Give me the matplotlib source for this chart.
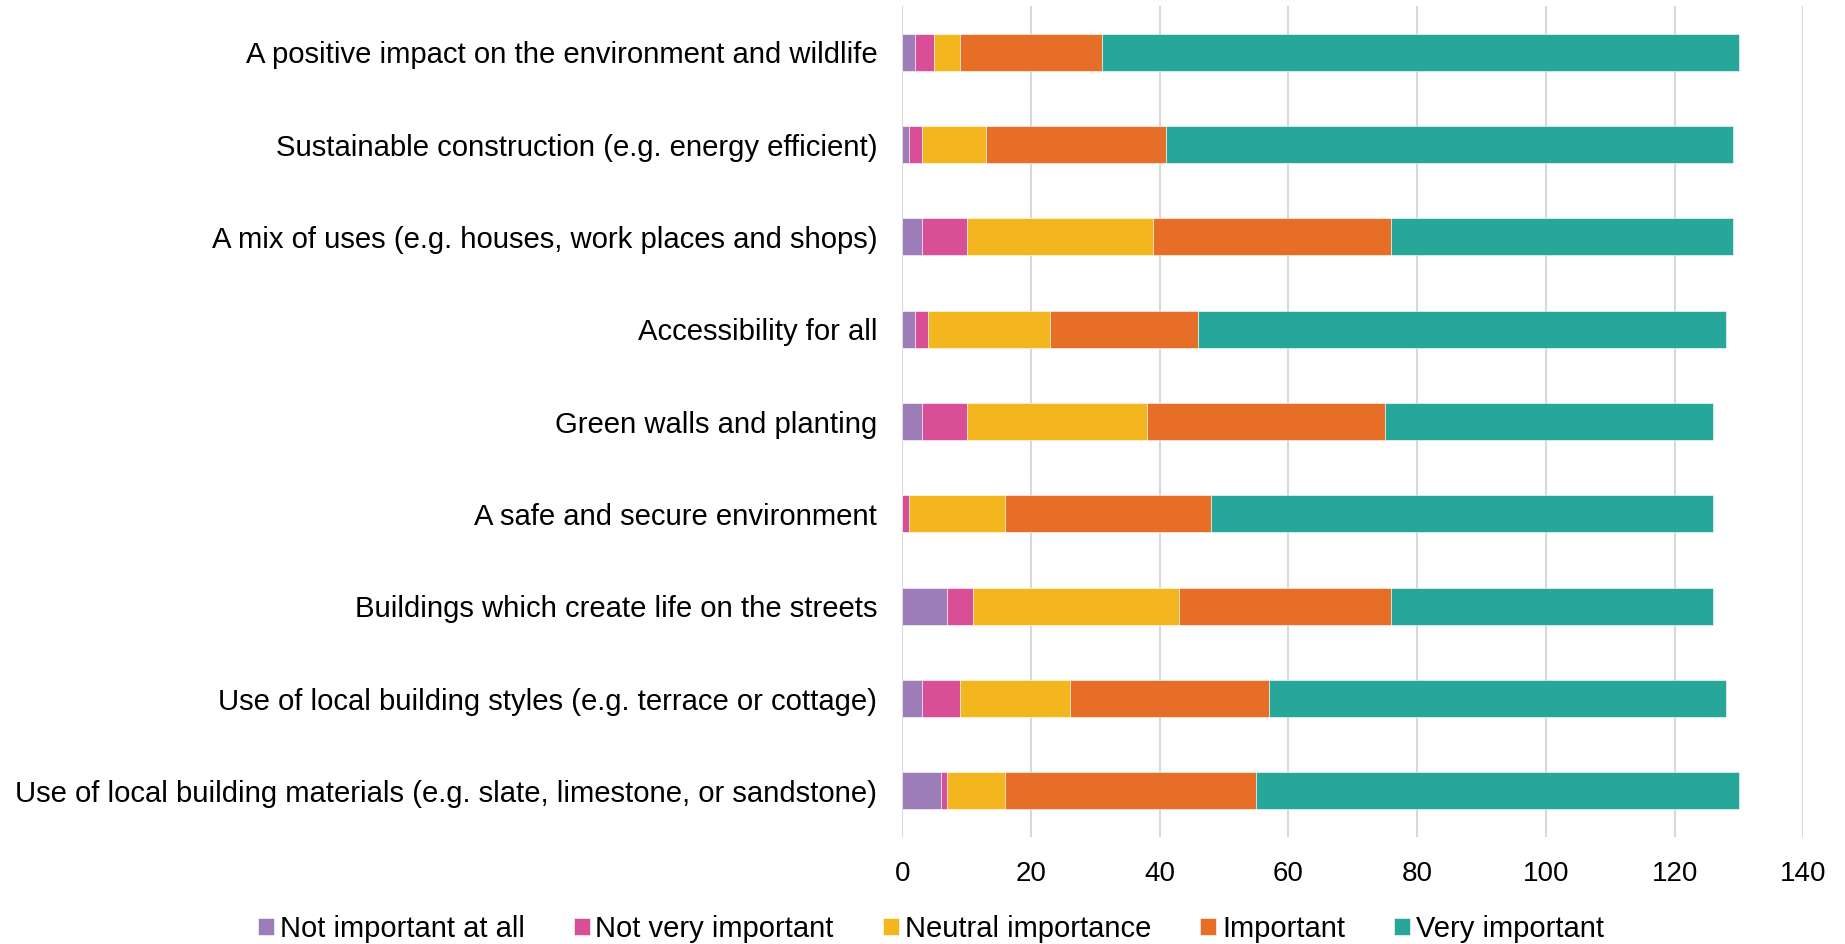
import matplotlib
matplotlib.use("Agg")
import matplotlib.pyplot as plt
import numpy as np

plt.rcParams['font.family'] = ['Liberation Sans', 'DejaVu Sans']

categories = [
    "A positive impact on the environment and wildlife",
    "Sustainable construction (e.g. energy efficient)",
    "A mix of uses (e.g. houses, work places and shops)",
    "Accessibility for all",
    "Green walls and planting",
    "A safe and secure environment",
    "Buildings which create life on the streets",
    "Use of local building styles (e.g. terrace or cottage)",
    "Use of local building materials (e.g. slate, limestone, or sandstone)",
]

not_important_at_all = [2, 1, 3, 2, 3, 0, 7, 3, 6]
not_very_important = [3, 2, 7, 2, 7, 1, 4, 6, 1]
neutral_importance = [4, 10, 29, 19, 28, 15, 32, 17, 9]
important = [22, 28, 37, 23, 37, 32, 33, 31, 39]
very_important = [99, 88, 53, 82, 51, 78, 50, 71, 75]

series = [
    ("Not important at all", not_important_at_all, "#9c7db7"),
    ("Not very important", not_very_important, "#d94f97"),
    ("Neutral importance", neutral_importance, "#f4b61e"),
    ("Important", important, "#e66e27"),
    ("Very important", very_important, "#26a79a"),
]

fig = plt.figure(figsize=(18.45, 9.44), dpi=100)
ax = fig.add_axes([0.489, 0.1133, 0.4885, 0.8803])

y = np.arange(len(categories))
left = np.zeros(len(categories))
for name, vals, col in series:
    ax.barh(y, vals, left=left, height=0.4, color=col, label=name,
            edgecolor='white', linewidth=0.4, zorder=3)
    left += np.array(vals)

ax.set_yticks(y)
ax.set_yticklabels(categories, fontsize=21.1)
ax.set_ylim(len(categories) - 0.5, -0.5)
ax.set_xlim(0, 140)
ax.set_xticks(np.arange(0, 141, 20))
ax.tick_params(axis='x', labelsize=20, length=0, pad=17)
ax.tick_params(axis='y', length=0, pad=18)
ax.grid(axis='x', color='#d9d9d9', linewidth=1.5, zorder=0)
for s in ax.spines.values():
    s.set_visible(False)

ax.legend(loc='lower center', bbox_to_anchor=(0.5045, -0.014), bbox_transform=fig.transFigure,
          ncol=5, frameon=False, fontsize=21, handlelength=0.55, handleheight=0.55,
          handletextpad=0.2, columnspacing=1.68, borderaxespad=0.1)

fig.savefig("out.png", dpi=100)
